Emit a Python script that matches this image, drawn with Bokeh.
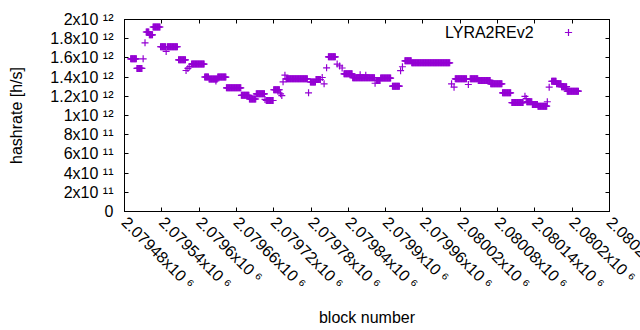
import numpy as np
from bokeh.plotting import figure
from bokeh.models import (Range1d, FixedTicker, LinearAxis, ColumnDataSource, Label,
                          Legend, LegendItem, CustomLabelingPolicy)
from bokeh.embed import file_html
from bokeh.resources import INLINE

# ---- data (block number, hashrate in h/s) ----
# runs of consecutive blocks that share (about) the same hashrate
run_first_block = [2079490, 2079500, 2079515, 2079520, 2079526, 2079538, 2079549, 2079567,
                   2079588, 2079609, 2079616, 2079630, 2079644, 2079668, 2079681, 2079692,
                   2079708, 2079720, 2079740, 2079779, 2079788, 2079808, 2079833, 2079847,
                   2079885, 2079892, 2079911, 2079931, 2079942, 2080012, 2080036, 2080049,
                   2080069, 2080088, 2080103, 2080127, 2080136, 2080145, 2080167, 2080175,
                   2080183, 2080192]
run_last_block = [2079499, 2079508, 2079519, 2079525, 2079537, 2079546, 2079565, 2079578,
                  2079608, 2079615, 2079629, 2079643, 2079667, 2079680, 2079691, 2079705,
                  2079719, 2079729, 2079774, 2079787, 2079795, 2079819, 2079846, 2079882,
                  2079891, 2079908, 2079922, 2079941, 2080003, 2080030, 2080048, 2080068,
                  2080087, 2080101, 2080121, 2080135, 2080144, 2080159, 2080174, 2080182,
                  2080191, 2080210]
run_hashrate = [1.59e12, 1.49e12, 1.87e12, 1.84e12, 1.922e12, 1.716e12, 1.716e12, 1.58e12,
                1.536e12, 1.401e12, 1.38e12, 1.40e12, 1.288e12, 1.21e12, 1.172e12, 1.226e12,
                1.156e12, 1.268e12, 1.382e12, 1.349e12, 1.375e12, 1.611e12, 1.434e12, 1.393e12,
                1.365e12, 1.39e12, 1.305e12, 1.57e12, 1.549e12, 1.382e12, 1.382e12, 1.365e12,
                1.33e12, 1.236e12, 1.135e12, 1.143e12, 1.115e12, 1.097e12, 1.357e12, 1.33e12,
                1.30e12, 1.253e12]

# isolated blocks
single_block = [2079510, 2079513, 2079547, 2079579, 2079582, 2079585, 2079627, 2079706,
                2079731, 2079733, 2079735, 2079738, 2079776, 2079798, 2079801, 2079805,
                2079822, 2079826, 2079830, 2079859, 2079868, 2079883, 2079924, 2079927,
                2080006, 2080010, 2080033, 2080124, 2080126, 2080160, 2080163]
single_hashrate = [1.59e12, 1.757e12, 1.667e12, 1.469e12, 1.49e12, 1.51e12, 1.36e12, 1.167e12,
                   1.226e12, 1.208e12, 1.351e12, 1.42e12, 1.236e12, 1.396e12, 1.33e12, 1.497e12,
                   1.536e12, 1.516e12, 1.495e12, 1.424e12, 1.42e12, 1.336e12, 1.467e12, 1.508e12,
                   1.33e12, 1.295e12, 1.323e12, 1.2e12, 1.177e12, 1.143e12, 1.295e12]

series_name = "LYRA2REv2"

x_tick_values = [2079480, 2079540, 2079600, 2079660, 2079720, 2079780, 2079840,
                 2079900, 2079960, 2080020, 2080080, 2080140, 2080200, 2080260]
x_tick_labels = ["2.07948x10 \u2076", "2.07954x10 \u2076", "2.0796x10 \u2076",
                 "2.07966x10 \u2076", "2.07972x10 \u2076", "2.07978x10 \u2076",
                 "2.07984x10 \u2076", "2.0799x10 \u2076", "2.07996x10 \u2076",
                 "2.08002x10 \u2076", "2.08008x10 \u2076", "2.08014x10 \u2076",
                 "2.0802x10 \u2076", "2.08026x10 \u2076"]
y_tick_values = [0, 2e11, 4e11, 6e11, 8e11, 1e12, 1.2e12, 1.4e12, 1.6e12, 1.8e12, 2e12]
y_tick_labels = ["0", "2x10 \u00b9\u00b9", "4x10 \u00b9\u00b9", "6x10 \u00b9\u00b9",
                 "8x10 \u00b9\u00b9", "1x10 \u00b9\u00b2", "1.2x10 \u00b9\u00b2",
                 "1.4x10 \u00b9\u00b2", "1.6x10 \u00b9\u00b2", "1.8x10 \u00b9\u00b2",
                 "2x10 \u00b9\u00b2"]

# ---- build point table (run-length decoding of the values above) ----
blocks = []
rates = []
for b0, b1, v in zip(run_first_block, run_last_block, run_hashrate):
    for b in range(b0, b1 + 1):
        blocks.append(b)
        rates.append(v)
blocks += single_block
rates += single_hashrate
src = ColumnDataSource(dict(block=blocks, hashrate=rates))

FONT = "Liberation Sans"
COLOR = "#9400D3"

p = figure(width=640, height=330, output_backend="svg", toolbar_location=None,
           x_range=Range1d(x_tick_values[0], x_tick_values[-1]),
           y_range=Range1d(y_tick_values[0], y_tick_values[-1]),
           min_border_left=124, min_border_right=31, min_border_top=19,
           min_border_bottom=119)
p.xgrid.visible = False
p.ygrid.visible = False
p.outline_line_color = "black"
p.outline_line_width = 1
p.background_fill_color = "white"
p.border_fill_color = "white"

r = p.scatter("block", "hashrate", source=src, marker="cross", size=7,
              line_color=COLOR, line_width=1.2)

# labeling policy (JS) that hides every label of the mirror axes
NO_LABELS = "for (const i of indices) { indices.unset(i) }\nreturn indices"

def style_axis(ax):
    ax.major_tick_in = 4
    ax.major_tick_out = 0
    ax.minor_tick_line_color = None
    ax.axis_line_color = "black"
    ax.major_tick_line_color = "black"
    ax.major_label_text_font = FONT
    ax.major_label_text_font_size = "16px"
    ax.major_label_text_color = "black"
    ax.axis_label_text_font = FONT
    ax.axis_label_text_font_size = "16px"
    ax.axis_label_text_font_style = "normal"
    ax.axis_label_text_color = "black"

# Bokeh slides the first/last label in the tick list back inside the canvas;
# listing the right-most tick second lets it run off the edge as in the original.
x_tick_order = [x_tick_values[0], x_tick_values[-1]] + x_tick_values[1:-1]

xa = p.xaxis[0]
style_axis(xa)
xa.ticker = FixedTicker(ticks=x_tick_order)
xa.major_label_overrides = dict(zip(x_tick_values, x_tick_labels))
xa.major_label_orientation = -np.pi / 4
xa.major_label_standoff = 8
xa.axis_label = "block number"
xa.axis_label_standoff = 8

ya = p.yaxis[0]
style_axis(ya)
ya.ticker = FixedTicker(ticks=y_tick_values)
ya.major_label_overrides = dict(zip(y_tick_values, y_tick_labels))
ya.major_label_standoff = 11
ya.axis_label = "hashrate [h/s]"
ya.axis_label_standoff = 22

top = LinearAxis(ticker=FixedTicker(ticks=x_tick_values))
style_axis(top)
top.major_label_text_font_size = "0px"
top.major_label_standoff = 0
top.major_label_policy = CustomLabelingPolicy(code=NO_LABELS)
p.add_layout(top, "above")

right = LinearAxis(ticker=FixedTicker(ticks=y_tick_values))
style_axis(right)
right.major_label_text_font_size = "0px"
right.major_label_standoff = 0
right.major_label_policy = CustomLabelingPolicy(code=NO_LABELS)
p.add_layout(right, "right")

# key: text on the left, sample marker on the right (gnuplot style)
p.add_layout(Label(x=2080138, y=1.868e12, text=series_name, text_align="right",
                   text_baseline="middle", text_font=FONT, text_font_size="16px",
                   text_color="black"))
legend = Legend(items=[LegendItem(label=" ", renderers=[r])], location=(434.5, 170),
                glyph_width=18, glyph_height=18, label_width=0, label_height=0,
                label_standoff=0, padding=0, margin=0, spacing=0,
                label_text_font_size="1px", border_line_color=None,
                background_fill_alpha=0)
p.add_layout(legend, "center")

open("out.html", "w").write(file_html(p, INLINE))
